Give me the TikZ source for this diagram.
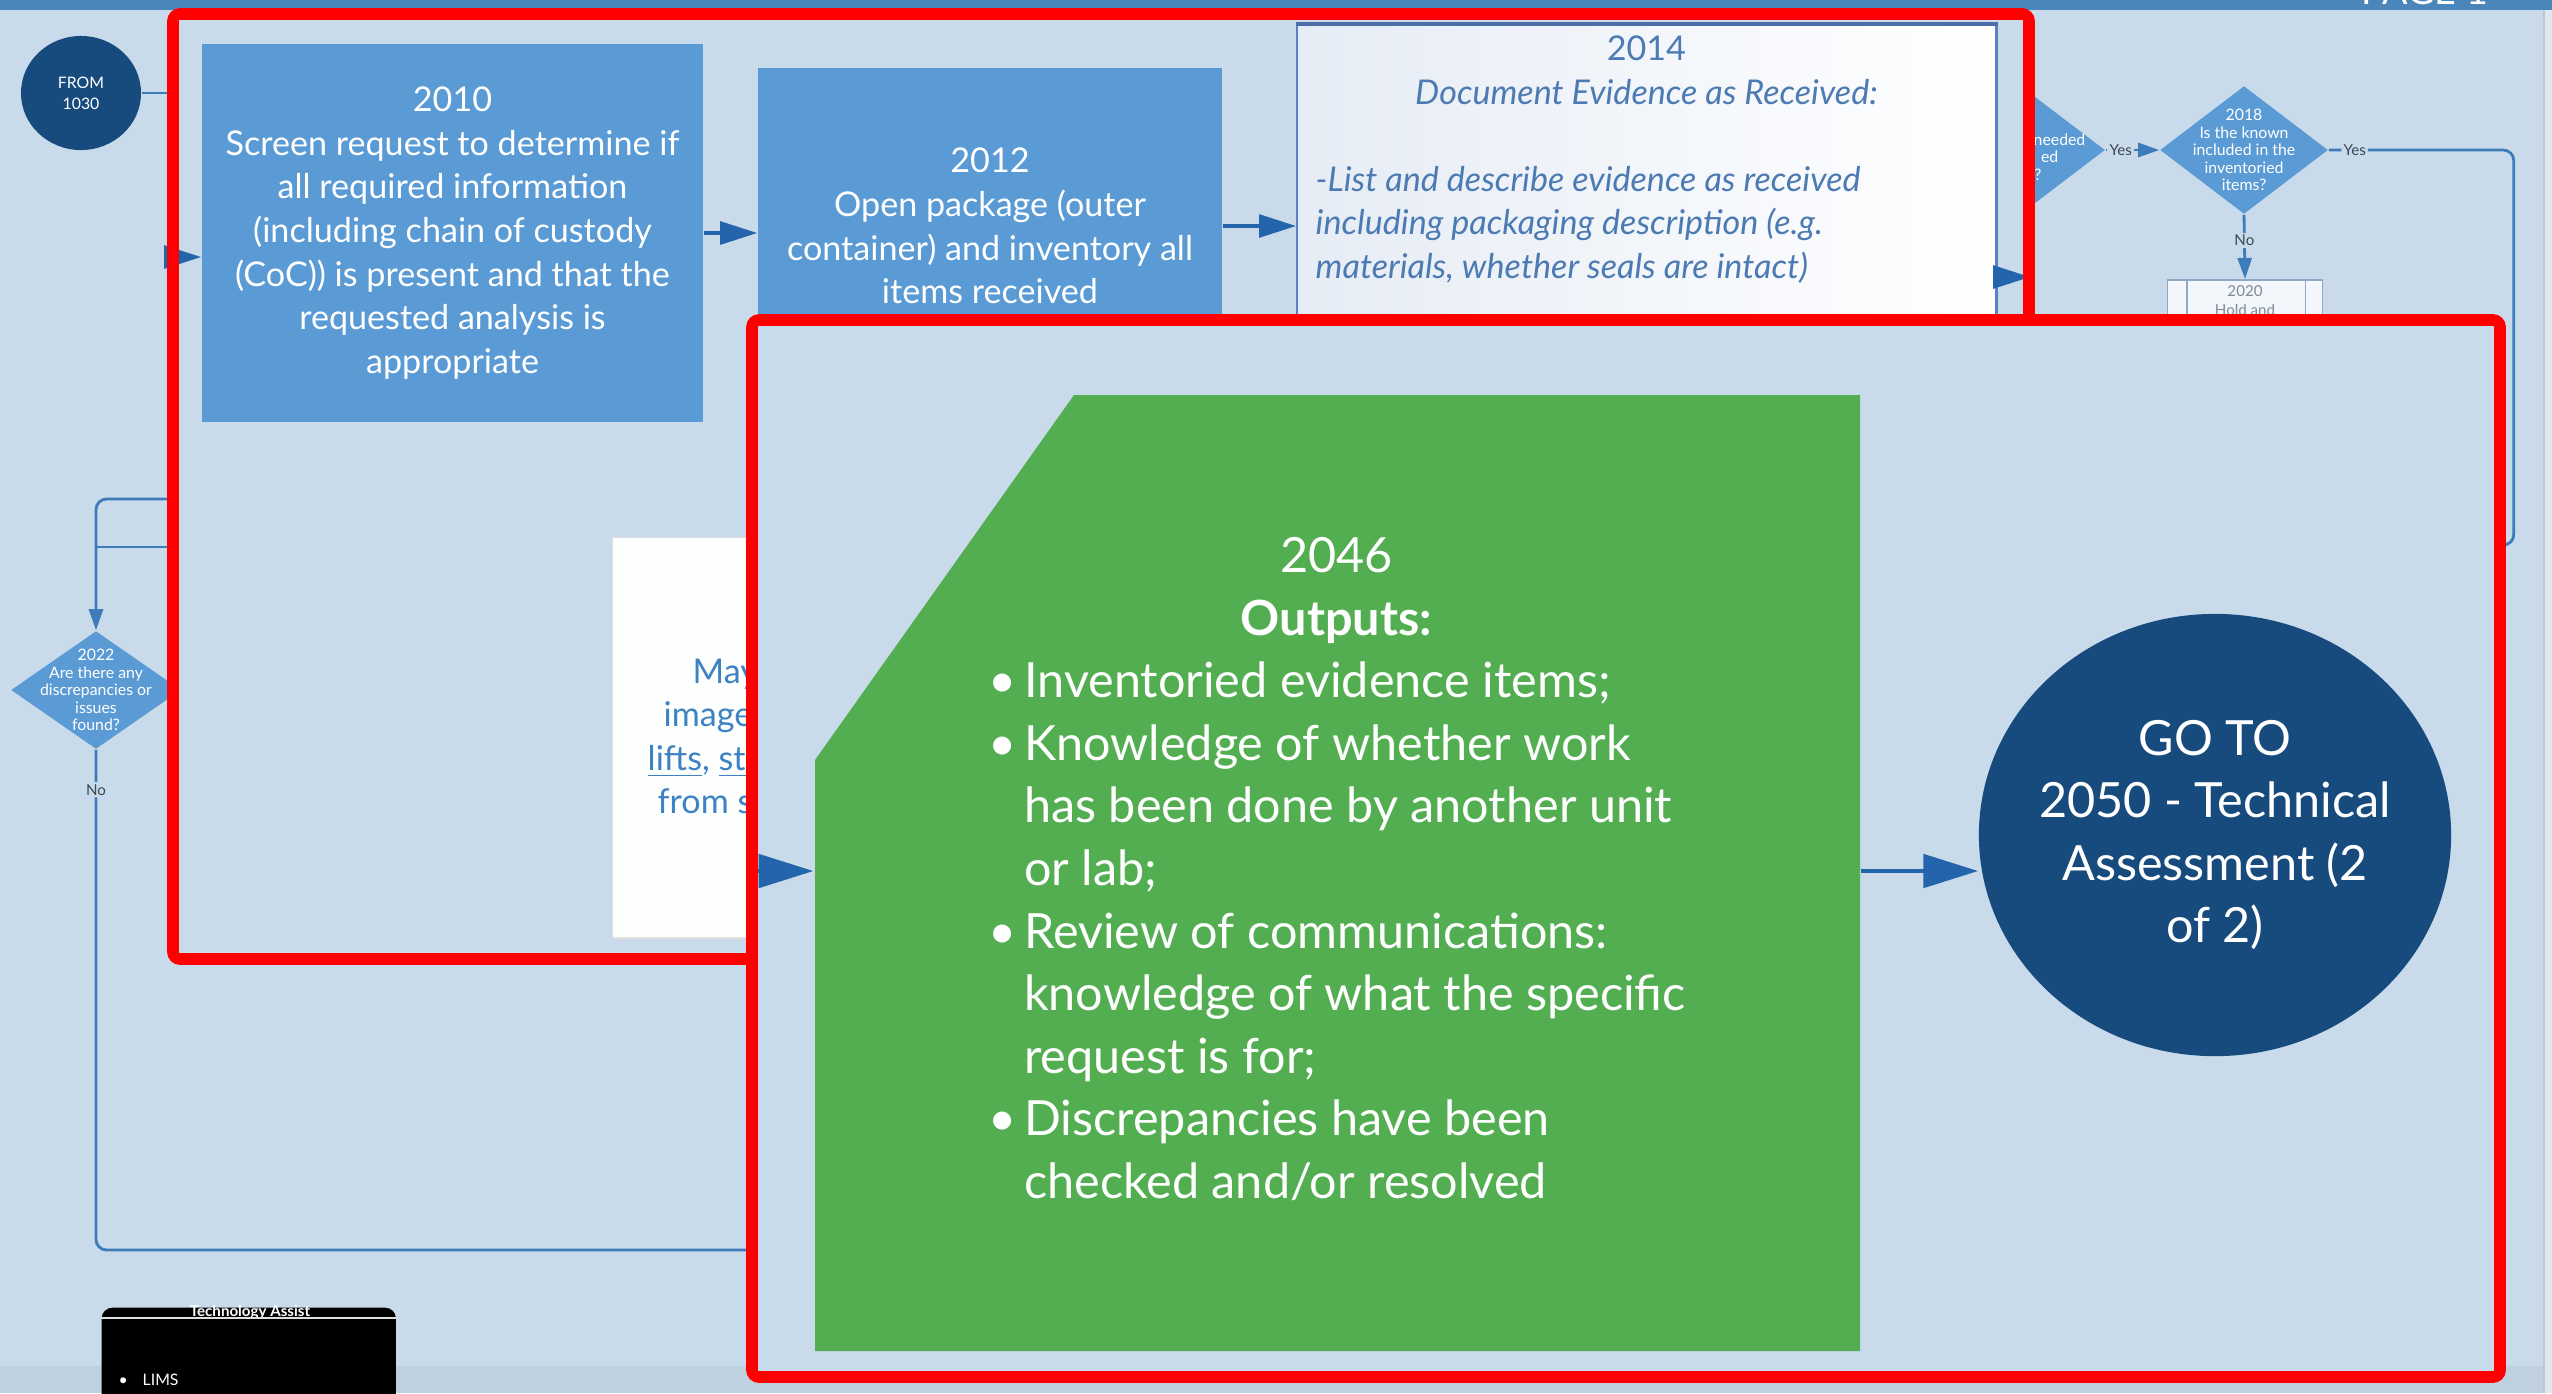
\documentclass[tikz,border=0pt]{standalone}
\usepackage{fontspec}
\setmainfont{Lato}
\usetikzlibrary{arrows.meta,shapes.geometric}

\definecolor{bgblue}{HTML}{C9DBEA}
\definecolor{bandblue}{HTML}{4A86B9}
\definecolor{bandlow}{HTML}{BFD0E0}
\definecolor{stepblue}{HTML}{5B9BD5}
\definecolor{navy}{HTML}{174B7D}
\definecolor{outgreen}{HTML}{53AE52}
\definecolor{wireblue}{HTML}{3D7BBA}
\definecolor{arrowblue}{HTML}{2364AA}
\definecolor{docblue}{HTML}{4C7AB3}
\definecolor{docedge}{HTML}{5B80C6}
\definecolor{docfill}{HTML}{E6ECF5}
\definecolor{linkblue}{HTML}{3D83C4}
\definecolor{lbltext}{HTML}{3A4756}
\definecolor{holdtext}{HTML}{7D8C9B}
\definecolor{holdedge}{HTML}{8FA9C6}
\definecolor{holdfill}{HTML}{F3F6FA}
\definecolor{zoomred}{HTML}{FF0000}

\newcommand{\outbullet}{\makebox[0.36cm][l]{\textbullet}}
\newcommand{\outindent}{\hspace*{0.36cm}}

\begin{document}
\begin{tikzpicture}[
  x=0.01cm, y=-0.01cm,
  stepbox/.style={rectangle, fill=stepblue, text=white, align=center,
    inner sep=0pt, font=\fontsize{9.7}{12.4}\selectfont},
  navyround/.style={ellipse, fill=navy, text=white, align=center, inner sep=0pt},
  decision/.style={diamond, fill=stepblue, inner sep=0pt,
    minimum width=1.7cm, minimum height=1.2cm},
  tinytext/.style={text=white, align=center, inner sep=0pt,
    font=\fontsize{4.5}{4.95}\selectfont},
  flowlbl/.style={text=lbltext, fill=bgblue, inner sep=0.6pt,
    font=\fontsize{4.3}{5}\selectfont},
  wire/.style={draw=wireblue, line width=0.8pt},
  smallflow/.style={wire, -{Triangle[length=6pt,width=4pt]}},
  zoomflow/.style={draw=arrowblue, line width=0.9pt,
    -{Triangle[length=10.5pt,width=6.5pt]}},
  bigflow/.style={draw=arrowblue, line width=1.4pt,
    -{Triangle[length=15.6pt,width=9.4pt]}},
  zoomframe/.style={draw=zoomred, line width=3.3pt, rounded corners=2pt},
  bigtext/.style={text=white, inner sep=0pt, font=\fontsize{13.8}{17.8}\selectfont}
]
\useasboundingbox (0,0) rectangle (2552,1393);

% screen behind the zoomed views
\fill[bgblue] (0,0) rectangle (2552,1393);
\fill[bandblue] (0,0) rectangle (2552,10);
\fill[bandlow] (0,1366) rectangle (2552,1393);
\fill[bgblue!60!white] (2544,10) rectangle (2552,1393);
\draw[gray!45, line width=0.6pt] (2544,10) -- (2544,1393);
\node[text=white, inner sep=0pt, anchor=base, font=\fontsize{10.7}{12}\selectfont]
  (pagelbl) at (2425,4) {PAGE 1};

\node[navyround, minimum width=1.2cm, minimum height=1.14cm,
  font=\fontsize{4.5}{6}\selectfont] (from1030) at (81,93) {FROM\\1030};
\coordinate (f1030) at (260,93);
\draw[wire] (from1030.east) -- (f1030);

\node[decision, minimum width=1.7cm, minimum height=1.18cm,
  label={[tinytext]center:{2022\\Are there any\\discrepancies or\\issues\\found?}}]
  (d2022) at (96,690) {};
\coordinate (l499) at (260,499);
\coordinate (l547) at (260,547);
\draw[smallflow, rounded corners=3pt] (l499) -| (d2022.north);
\draw[wire] (l547) -- (l547 -| d2022.north);
\coordinate (n2022) at (790,1250);
\draw[wire, rounded corners=3pt] (d2022.south) |- node[flowlbl, pos=0.04] {No} (n2022);

\node[decision, minimum width=1.68cm, minimum height=1.28cm] (d2016) at (2021,150) {};
\node[tinytext, align=right, anchor=north east] (t2016) at (2086,133)
  {needed\\ed\rule{7.7pt}{0pt}\\?\rule{12.5pt}{0pt}};
\node[decision, minimum width=1.68cm, minimum height=1.28cm,
  label={[tinytext]center:{2018\\Is the known\\included in the\\inventoried\\items?}}]
  (d2018) at (2244,150) {};
\draw[smallflow] (d2016.east) -- node[flowlbl, pos=0.28] {Yes} (d2018.west);

\node[rectangle, fill=holdfill, draw=holdedge, line width=0.5pt, inner sep=0pt,
  minimum width=1.55cm, minimum height=1.3cm, anchor=north,
  label={[text=holdtext, align=center, inner sep=0pt, anchor=north, yshift=-1.6pt,
    font=\fontsize{4.3}{5.6}\selectfont]north:{2020\\Hold and}}]
  (b2020) at (2245,279) {};
\draw[holdedge, line width=0.5pt] ([xshift=0.2cm]b2020.north west) -- ([xshift=0.2cm]b2020.south west);
\draw[holdedge, line width=0.5pt] ([xshift=-0.18cm]b2020.north east) -- ([xshift=-0.18cm]b2020.south east);
\draw[smallflow] (d2018.south) -- node[flowlbl, pos=0.4] {No} (b2020.north);
\coordinate (r2018) at (2470,545);
\draw[wire, rounded corners=3pt] (d2018.east) -- node[flowlbl, pos=0.14] {Yes} ++(185,0) |- (r2018);

\node[rectangle, fill=black, rounded corners=3pt, inner sep=0pt, anchor=north west,
  minimum width=2.94cm, minimum height=1.2cm] (tbox) at (101,1307) {};
\node[text=white, inner sep=0pt, font=\bfseries\fontsize{4.3}{5}\selectfont]
  (thead) at (250,1312) {Technology Assist};
\draw[white!75!gray, line width=0.5pt] ([yshift=-0.11cm]tbox.north west) -- ([yshift=-0.11cm]tbox.north east);
\node[text=white, inner sep=0pt, anchor=west, font=\fontsize{4.5}{5}\selectfont]
  (lims) at (118,1380) {\makebox[0.24cm][l]{\textbullet}LIMS};

% first zoomed view
\fill[bgblue] (173,14) rectangle (2029,959);
\node[stepbox, minimum width=5.01cm, minimum height=3.78cm] (b2010) at (452.5,233)
  {2010\\Screen request to determine if\\all required information\\(including chain of custody\\(CoC)) is present and that the\\requested analysis is\\appropriate};
\node[stepbox, minimum width=4.64cm, minimum height=3.16cm] (b2012) at (990,226)
  {2012\\Open package (outer\\container) and inventory all\\items received};
\node[rectangle, draw=docedge, line width=0.6pt, left color=docfill, right color=white,
  inner sep=0pt, minimum width=6.99cm, minimum height=3.8cm, anchor=north west]
  (b2014) at (1296,24) {};
\draw[docedge!85!black, line width=1.4pt] (b2014.north west) -- (b2014.north east);
\node[text=docblue, align=left, inner sep=0pt, anchor=north west,
  font=\fontsize{9.7}{12.4}\selectfont] (t2014) at (1315,35)
  {\makebox[6.61cm]{2014}\\
   \makebox[6.61cm]{\itshape Document Evidence as Received:}\\[12.4pt]
   \itshape -List and describe evidence as received\\
   \itshape including packaging description (e.g.\\
   \itshape materials, whether seals are intact)};

\coordinate (in2010) at (173,257);
\draw[zoomflow] (in2010) -- (in2010 -| b2010.west);
\draw[zoomflow] (b2010.east) -- (b2010.east -| b2012.west);
\draw[zoomflow] (b2012.east) -- (b2012.east -| b2014.west);
\coordinate (o2014) at (2030,277);
\draw[zoomflow] (b2014.east |- o2014) -- (o2014);

\node[rectangle, fill=white!97!bgblue, draw=gray!25, line width=0.4pt, inner sep=0pt,
  minimum width=2.3cm, minimum height=4.0cm, anchor=north west] (maynote) at (612,537) {};
\node[text=linkblue, align=left, inner sep=0pt, anchor=north west,
  font=\fontsize{9.7}{12.4}\selectfont] (tmay) at (647,658)
  {\hspace*{0.45cm}May\\\hspace*{0.16cm}image\\\underline{lifts}, \underline{st}\\\hspace*{0.1cm}from s};

\draw[zoomframe] (173,14) rectangle (2029,959);

% second zoomed view
\fill[bgblue] (752,320) rectangle (2500,1377);
\fill[outgreen] (815,760) -- (1074,395) -- (1860,395) -- (1860,1351) -- (815,1351) -- cycle;
\node[bigtext, align=left, minimum width=10.45cm, minimum height=9.56cm] (g2046) at (1337,869)
  {\makebox[6.96cm]{2046}\\
   \makebox[6.96cm]{\bfseries Outputs:}\\
   \outbullet Inventoried evidence items;\\
   \outbullet Knowledge of whether work\\
   \outindent has been done by another unit\\
   \outindent or lab;\\
   \outbullet Review of communications:\\
   \outindent knowledge of what the specific\\
   \outindent request is for;\\
   \outbullet Discrepancies have been\\
   \outindent checked and/or resolved};
\coordinate (in2046) at (748,871);
\draw[bigflow] (in2046) -- (in2046 -| g2046.west);

\node[navyround, minimum width=4.72cm, minimum height=4.42cm,
  label={[bigtext, align=center]center:{GO TO\\2050 - Technical\\Assessment (2\\of 2)}}]
  (goto2050) at (2215,835) {};
\draw[bigflow] (g2046.east |- in2046) -- (in2046 -| goto2050.west);

\draw[zoomframe] (752,320) rectangle (2500,1377);

\end{tikzpicture}
\end{document}
